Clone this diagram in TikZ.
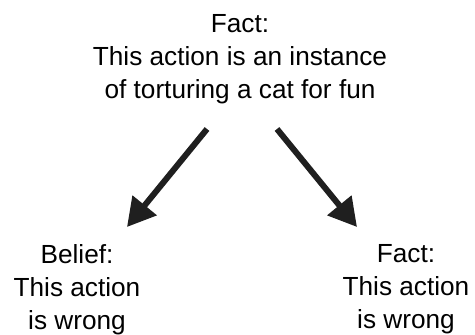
\documentclass[tikz,border=0pt]{standalone}
\usepackage{fontspec}
\setmainfont{Liberation Sans}
\usetikzlibrary{arrows.meta,positioning}
\tikzset{
  claim/.style={
    inner sep=0pt,
    anchor=north,
    align=center,
    font=\fontsize{13.1pt}{16.6pt}\selectfont
  },
  infer/.style={
    line width=3pt,
    draw=black!88,
    -{Triangle[length=14pt,width=15pt]}
  }
}
\begin{document}
\begin{tikzpicture}[x=0.5pt,y=-0.5pt]
  \useasboundingbox (0,0) rectangle (475,334);
  \node[claim] (fact) at (240,14) {Fact:\\This action is an instance\\of torturing a cat for fun};
  \node[claim] (belief) at (77,244) {Belief:\\This action\\is wrong};
  \node[claim] (wrong) at (406,244) {Fact:\\This action\\is wrong};
  % arrow ends
  \coordinate (lsrc) at (207,129);
  \coordinate (ldst) at (127,227);
  \coordinate (rsrc) at (277,129);
  \coordinate (rdst) at (357,227);
  \draw[infer] (lsrc) -- (ldst);
  \draw[infer] (rsrc) -- (rdst);
\end{tikzpicture}
\end{document}
